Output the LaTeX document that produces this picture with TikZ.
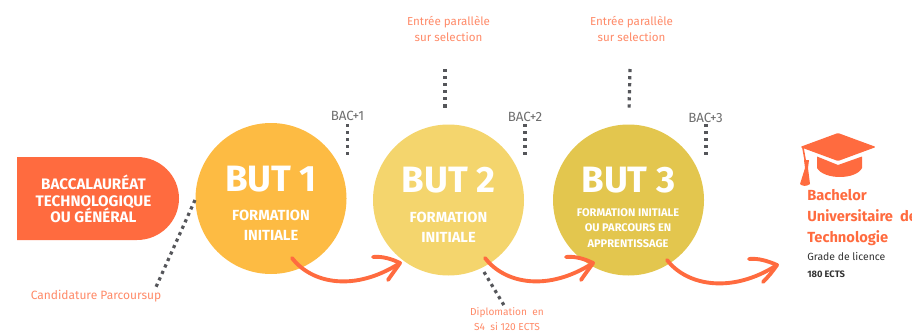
\documentclass[tikz,border=0pt]{standalone}
\usepackage{fontspec}
\setmainfont{Fira Sans}
\definecolor{coral}{HTML}{FF6B3F}
\definecolor{softcoral}{HTML}{FF8A68}
\definecolor{butA}{HTML}{FDBB43}
\definecolor{butB}{HTML}{F4D56D}
\definecolor{butC}{HTML}{E3C64E}
\definecolor{dotgrey}{HTML}{55565A}
\definecolor{bacgrey}{HTML}{6E6E6E}
\tikzset{
  px/.style={x=0.75pt,y=-0.75pt},
  butcircle/.style={circle,minimum size=113.25pt,inner sep=0pt},
  buttitle/.style={text=white,font=\fontsize{27.5}{27}\selectfont\bfseries,inner sep=0pt,anchor=center},
  butsub/.style={text=white,font=\fontsize{11}{15}\selectfont\bfseries,align=center,inner sep=0pt},
  butsmall/.style={text=white,font=\fontsize{8.3}{11.6}\selectfont\bfseries,align=center,inner sep=0pt},
  baclabel/.style={text=bacgrey,font=\fontsize{10}{12}\selectfont,inner sep=0pt},
  notelabel/.style={text=softcoral,font=\fontsize{8.7}{11.7}\selectfont,align=center,inner sep=0pt},
  dots/.style={draw=dotgrey,line width=2.4pt,dash pattern=on 2.4pt off 2.9pt},
  flow/.style={draw=coral,line width=2.9pt,line cap=round,line join=round},
}
\begin{document}
\begin{tikzpicture}[px]
\useasboundingbox (0,0) rectangle (912,332);
% Baccalaureat block
\fill[coral] (17,157) -- (137,157) arc[start angle=-90,end angle=90,x radius=42,y radius=41.5] -- (17,240) -- cycle;
\node[text=white,font=\fontsize{11.4}{12.6}\selectfont\bfseries,align=center,inner sep=0pt] (bac) at (93.5,199) {BACCALAURÉAT\\TECHNOLOGIQUE\\OU GÉNÉRAL};
% circles
\node[butcircle,fill=butA] (b1) at (271,198.5) {};
\node[butcircle,fill=butB] (b2) at (448.5,200) {};
\node[butcircle,fill=butC] (b3) at (628.5,200) {};
\node[buttitle] (t1) at (271,179) {BUT 1};
\node[buttitle] (t2) at (448.5,180) {BUT 2};
\node[buttitle] (t3) at (628.5,180) {BUT 3};
\node[butsub] (s1) at (271,225.5) {FORMATION\\INITIALE};
\node[butsub] (s2) at (448.5,227) {FORMATION\\INITIALE};
\node[butsmall] (s3) at (628,228) {FORMATION INITIALE\\OU PARCOURS EN\\APPRENTISSAGE};
% labels
\node[baclabel] (l1) at (347.5,116) {BAC+1};
\node[baclabel] (l2) at (525,117) {BAC+2};
\node[baclabel] (l3) at (705.5,117.5) {BAC+3};
\node[notelabel] (n1) at (448.5,29) {Entrée parallèle\\sur selection};
\node[notelabel] (n2) at (631.5,29) {Entrée parallèle\\sur selection};
\node[notelabel,font=\fontsize{9}{11.7}\selectfont] (n3) at (96,296.5) {Candidature Parcoursup};
\node[notelabel,font=\fontsize{7.6}{11.4}\selectfont] (n4) at (507,319.5) {Diplomation\ \ en\\S4\ \ si 120 ECTS};
% dotted leaders
\coordinate (d1a) at (195,200); \coordinate (d1b) at (156,287);
\coordinate (d2a) at (347.5,124); \coordinate (d2b) at (347.5,155);
\coordinate (d3a) at (525,124); \coordinate (d3b) at (525,156);
\coordinate (d4a) at (706,124); \coordinate (d4b) at (706,156);
\coordinate (d5a) at (445,69); \coordinate (d5b) at (445,111);
\coordinate (d6a) at (630,69); \coordinate (d6b) at (629,111);
\coordinate (d7a) at (484,272); \coordinate (d7b) at (505,307);
\foreach \a/\b in {d1a/d1b,d2a/d2b,d3a/d3b,d4a/d4b,d5a/d5b,d6a/d6b,d7a/d7b}
  \draw[dots] (\a) -- (\b);
% flow arrows
\coordinate (a1s) at (292,258); \coordinate (a1e) at (400,263);
\coordinate (a2s) at (485,258); \coordinate (a2e) at (593,263);
\coordinate (a3s) at (667,260); \coordinate (a3e) at (777,265);
\draw[flow] (a1s) .. controls (312,284) and (355,292) .. (a1e);
\draw[flow] (373,257) .. controls (382,256) and (392,259) .. (a1e) .. controls (396,269) and (392,274) .. (388,280);
\draw[flow] (a2s) .. controls (505,284) and (548,292) .. (a2e);
\draw[flow] (566,257) .. controls (575,256) and (585,259) .. (a2e) .. controls (589,269) and (585,274) .. (581,280);
\draw[flow] (a3s) .. controls (687,286) and (732,294) .. (a3e);
\draw[flow] (749,259) .. controls (758,258) and (768,261) .. (a3e) .. controls (773,271) and (768,277) .. (763,282);
% graduation cap
\fill[coral,rounded corners=1pt] (800,147) -- (838,133) -- (876,147) -- (838,161) -- cycle;
\fill[coral] (817,156.5) -- (838,165) -- (862,156.5) -- (862,168) .. controls (856,180) and (824,180) .. (817,168) -- cycle;
\draw[coral,line width=1.2pt] (803,148) -- (806,165);
\fill[coral] (804,160) -- (809,160) -- (808,168) -- (810,184) .. controls (806,187) and (802,186) .. (800,184) -- (805,168) -- cycle;
% outcome text
\node[text=coral,font=\fontsize{11}{15.6}\selectfont\bfseries,align=left,anchor=north west,inner sep=0pt] (out) at (807,189) {Bachelor\\Universitaire\ \ de\\Technologie};
\node[text=black!80,font=\fontsize{7.8}{12.2}\selectfont,align=left,anchor=north west,inner sep=0pt] (grade) at (807,252.5) {Grade de licence\\\textbf{\fontsize{7}{12.2}\selectfont 180 ECTS}};
\end{tikzpicture}
\end{document}
